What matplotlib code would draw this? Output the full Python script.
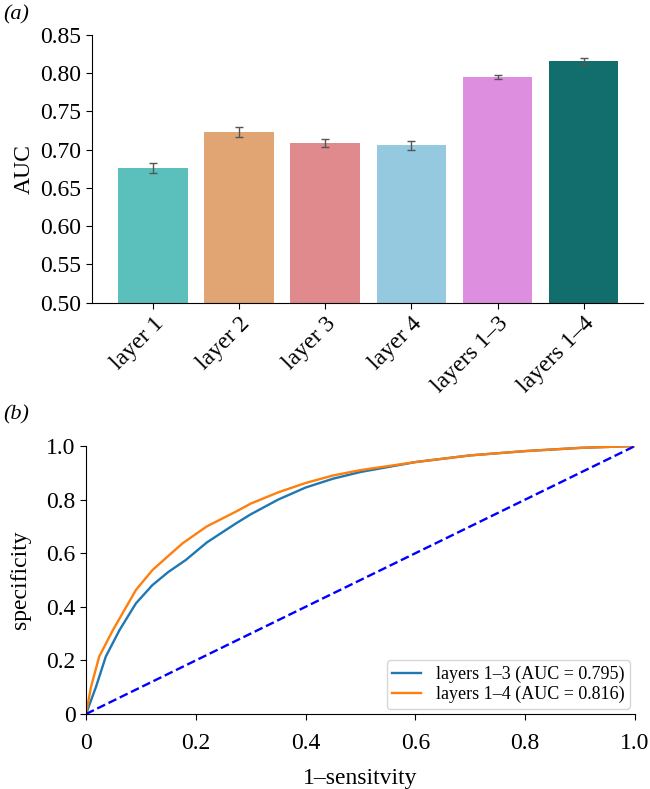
import matplotlib
matplotlib.use('Agg')
import matplotlib.pyplot as plt

plt.rcParams['font.family'] = ['Liberation Serif', 'DejaVu Serif']

# panel (a): mean AUC per layer set
labels = ['layer 1', 'layer 2', 'layer 3', 'layer 4', 'layers 1\u20133', 'layers 1\u20134']
auc = [0.676, 0.723, 0.709, 0.706, 0.795, 0.816]
auc_err = [0.007, 0.007, 0.005, 0.006, 0.003, 0.004]
colors = ['#5bc0bb', '#e0a572', '#e08a8d', '#94c9df', '#de8ede', '#126e6c']

# panel (b): ROC curves
fpr_13 = [0.0, 0.018, 0.036, 0.061, 0.091, 0.121, 0.15, 0.182, 0.22, 0.273, 0.3,
          0.35, 0.4, 0.45, 0.5, 0.6, 0.7, 0.8, 0.9, 1.0]
tpr_13 = [0.0, 0.10, 0.214, 0.313, 0.413, 0.481, 0.53, 0.575, 0.64, 0.711, 0.745,
          0.80, 0.845, 0.878, 0.903, 0.94, 0.965, 0.981, 0.993, 1.0]
fpr_14 = [0.0, 0.009, 0.024, 0.049, 0.091, 0.121, 0.15, 0.176, 0.22, 0.273, 0.3,
          0.35, 0.4, 0.45, 0.5, 0.6, 0.7, 0.8, 0.9, 1.0]
tpr_14 = [0.0, 0.10, 0.214, 0.313, 0.463, 0.537, 0.59, 0.637, 0.70, 0.755, 0.785,
          0.827, 0.862, 0.89, 0.91, 0.94, 0.965, 0.981, 0.993, 1.0]

fig = plt.figure(figsize=(6.5, 7.89), dpi=100)

# --- (a) bar chart
ax1 = fig.add_axes([92 / 650, 1 - 302.7 / 789, (643 - 92) / 650, (302.7 - 35) / 789])
ax1.bar(range(len(auc)), auc, width=0.81, color=colors, yerr=auc_err,
        error_kw=dict(ecolor='#555555', elinewidth=1, capsize=3, capthick=1))
ax1.set_ylim(0.5, 0.85)
ax1.set_xlim(-0.71, 5.69)
ax1.set_yticks([0.50, 0.55, 0.60, 0.65, 0.70, 0.75, 0.80, 0.85])
ax1.set_yticklabels(['%.2f' % v for v in ax1.get_yticks()])
ax1.set_xticks(range(len(auc)))
ax1.set_xticklabels(labels, rotation=45, ha='right', rotation_mode='anchor')
ax1.set_ylabel('AUC', fontsize=17)
ax1.tick_params(axis='both', labelsize=17, length=4)
for s in ['top', 'right']:
    ax1.spines[s].set_visible(False)
fig.text(3 / 650, 1 - 15 / 789, '(a)', fontsize=16, style='italic', va='center')

# --- (b) ROC curves
ax2 = fig.add_axes([86 / 650, 1 - 714 / 789, 549 / 650, 268 / 789])
ax2.plot(fpr_13, tpr_13, color='#1f77b4', lw=1.7, label='layers 1\u20133 (AUC = 0.795)')
ax2.plot(fpr_14, tpr_14, color='#ff7f0e', lw=1.7, label='layers 1\u20134 (AUC = 0.816)')
ax2.plot([0, 1], [0, 1], color='blue', lw=1.7, ls='--')
ax2.set_xlim(0, 1)
ax2.set_ylim(0, 1)
ax2.set_xticks([0, 0.2, 0.4, 0.6, 0.8, 1.0])
ax2.set_xticklabels(['0', '0.2', '0.4', '0.6', '0.8', '1.0'])
ax2.set_yticks([0, 0.2, 0.4, 0.6, 0.8, 1.0])
ax2.set_yticklabels(['0', '0.2', '0.4', '0.6', '0.8', '1.0'])
ax2.tick_params(axis='both', labelsize=17, length=4)
ax2.tick_params(axis='x', pad=10)
ax2.set_xlabel('1\u2013sensitvity', fontsize=17, labelpad=10)
ax2.set_ylabel('specificity', fontsize=17)
ax2.yaxis.set_label_coords(-0.10, 0.5)
for s in ['top', 'right']:
    ax2.spines[s].set_visible(False)
ax2.legend(loc='lower right', fontsize=13, frameon=True, handlelength=1.6,
           labelspacing=0.15, borderpad=0.3, borderaxespad=0.3)
fig.text(3 / 650, 1 - 415 / 789, '(b)', fontsize=16, style='italic', va='center')

plt.savefig('out.png', dpi=100)
